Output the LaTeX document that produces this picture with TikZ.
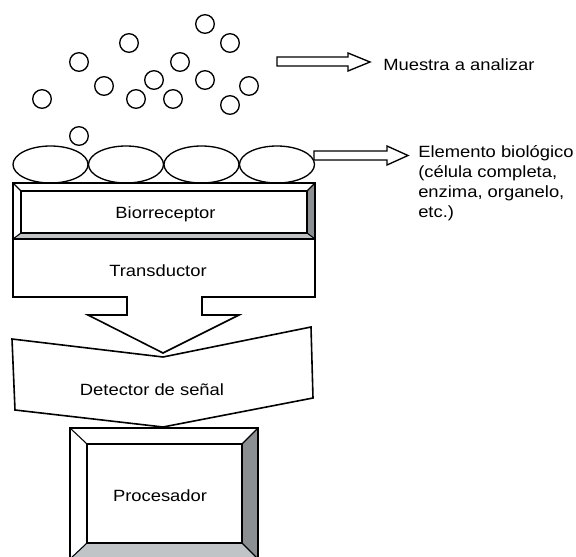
\documentclass[tikz,border=0pt]{standalone}
\usepackage{fontspec}
\setmainfont{Liberation Sans}[FakeStretch=1.13]
\definecolor{darkface}{RGB}{140,143,146}
\definecolor{lightface}{RGB}{192,196,198}
\begin{document}
\begin{tikzpicture}[x=0.75pt,y=-0.75pt,
  outl/.style={draw=black,line width=1.2pt,line join=miter},
  molec/.style={draw=black,line width=1pt,fill=white},
  lbl/.style={inner sep=0pt,font=\fontsize{12.2}{15}\selectfont},
  ]
\useasboundingbox (0,0) rectangle (576,557);
\clip (0,0) rectangle (576,557);
% molecules
\foreach \px/\py in {205/24,230/43,129/43,79/62,180/62,104/86,154/80,205/80,249/86,42/99,136/99,173/99,230/105,79/136}
  \draw[molec] (\px,\py) circle (9.3);
% biological elements
\foreach \ex in {50.5,126,201.5,277}
  \draw[molec] (\ex,164.5) ellipse (37.5 and 18.5);
% Biorreceptor bevel box
\fill[white] (13,183) rectangle (315,239);
\fill[darkface] (315,183) -- (307,191) -- (307,233) -- (315,239) -- cycle;
\fill[lightface] (13,239) -- (21,233) -- (307,233) -- (315,239) -- cycle;
\draw[outl] (13,183) rectangle (315,239);
\draw[outl] (21,191) rectangle (307,233);
\draw[line width=0.8pt] (13,183) -- (21,191) (315,183) -- (307,191) (13,239) -- (21,233) (315,239) -- (307,233);
\node[lbl] (bio) at (165.5,214) {Biorreceptor};
% Detector
\draw[outl,fill=white] (12,339) -- (163,357) -- (311,327) -- (313,398) -- (163,427) -- (15,410) -- cycle;
\node[lbl] (det) at (152,390) {Detector de señal};
% Transductor arrow
\draw[outl,fill=white] (13,239) -- (315,239) -- (315,297) -- (202,297) -- (202,315) -- (239,315) -- (163,353) -- (88,315) -- (127,315) -- (127,297) -- (13,297) -- cycle;
\node[lbl] (tra) at (158,271) {Transductor};
% Procesador bevel box
\fill[white] (70,428) rectangle (258,559);
\fill[darkface] (258,428) -- (242,444) -- (242,543) -- (258,559) -- cycle;
\fill[lightface] (70,559) -- (87,543) -- (242,543) -- (258,559) -- cycle;
\draw[outl] (70,428) rectangle (258,559);
\draw[outl] (87,444) rectangle (242,543);
\draw[line width=0.8pt] (70,428) -- (87,444) (258,428) -- (242,444) (70,559) -- (87,543) (258,559) -- (242,543);
\node[lbl] (pro) at (160,496) {Procesador};
% block arrows
\draw[line width=1pt,fill=white] (277,57) -- (348,57) -- (348,53) -- (370,62) -- (348,71) -- (348,66) -- (277,66) -- cycle;
\node[lbl,anchor=base west] (mue) at (383,70) {Muestra a analizar};
\draw[line width=1pt,fill=white] (314,151) -- (387,151) -- (387,146) -- (408,155.5) -- (387,165) -- (387,160) -- (314,160) -- cycle;
\node[lbl,anchor=north west,align=left] (ele) at (418,145) {Elemento biológico\\(célula completa,\\enzima, organelo,\\etc.)};
\end{tikzpicture}
\end{document}
